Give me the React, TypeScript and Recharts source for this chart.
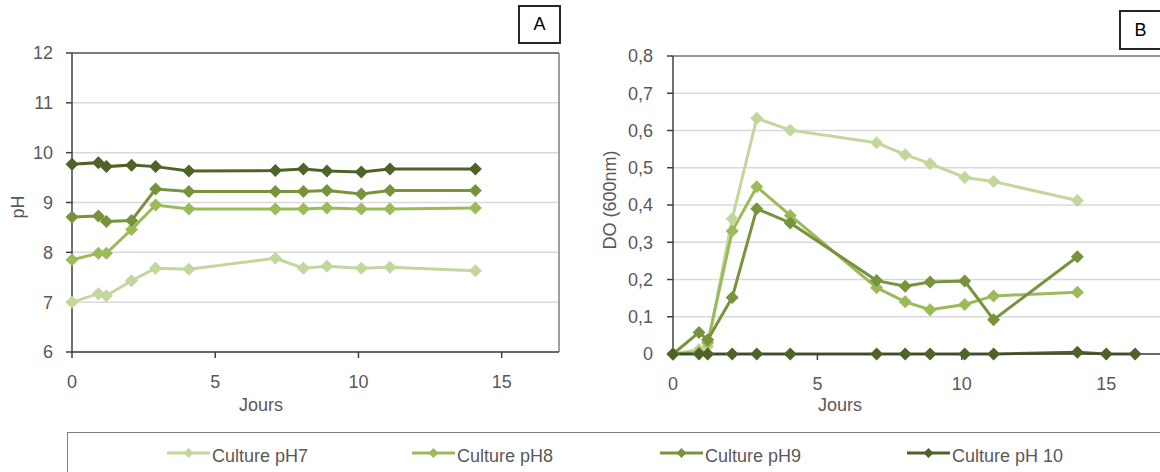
import React from "react";
import { CartesianGrid, Line, LineChart, ReferenceLine, XAxis, YAxis } from "recharts";

const FONT = '"Liberation Sans", Arial, sans-serif';
const TXT = "#595959";
const AX = "#404040";

const C7 = "#c3d69b";
const C8 = "#9bbb59";
const C9 = "#77933c";
const C10 = "#4f6228";

const SERIES = ["Culture pH7", "Culture pH8", "Culture pH9", "Culture pH 10"];
const COLORS = [C7, C8, C9, C10];

const X_TICKS = [0, 5, 10, 15];
const PH_TICKS = [6, 7, 8, 9, 10, 11, 12];
const DO_TICKS = [0, 0.1, 0.2, 0.3, 0.4, 0.5, 0.6, 0.7, 0.8];

// panel A : pH
const daysA = [0, 0.92, 1.2, 2.08, 2.92, 4.08, 7.1, 8.08, 8.9, 10.1, 11.1, 14.08];
const phA7 = [7.0, 7.17, 7.13, 7.43, 7.68, 7.66, 7.88, 7.68, 7.72, 7.68, 7.7, 7.63];
const phA8 = [7.85, 7.98, 7.98, 8.46, 8.95, 8.87, 8.87, 8.87, 8.89, 8.87, 8.87, 8.89];
const phA9 = [8.71, 8.73, 8.62, 8.64, 9.27, 9.22, 9.22, 9.22, 9.24, 9.17, 9.24, 9.24];
const phA10 = [9.77, 9.8, 9.72, 9.75, 9.72, 9.63, 9.64, 9.67, 9.63, 9.61, 9.67, 9.67];

// panel B : DO 600nm
const daysB = [0, 0.9, 1.2, 2.05, 2.9, 4.06, 7.05, 8.04, 8.9, 10.1, 11.1, 14.0, 15, 16];
const do7 = [0, 0.012, 0.02, 0.363, 0.633, 0.601, 0.567, 0.535, 0.511, 0.474, 0.463, 0.412];
const do8 = [0, 0.005, 0.03, 0.33, 0.449, 0.372, 0.178, 0.14, 0.119, 0.133, 0.156, 0.166];
const do9 = [0, 0.058, 0.038, 0.152, 0.39, 0.352, 0.197, 0.182, 0.193, 0.196, 0.092, 0.261];
const do10 = [0, 0, 0, 0, 0, 0, 0, 0, 0, 0, 0, 0.005, 0, 0];

const toRows = (days: number[], vals: number[]) =>
  vals.map((v, i) => ({ day: days[i], v }));

const diamond = (color: string) => (props: any) => {
  const { cx, cy, index } = props;
  if (cx == null || cy == null) return <g key={index} />;
  const r = 6.5;
  return (
    <path
      key={index}
      d={`M${cx},${cy - r}L${cx + r},${cy}L${cx},${cy + r}L${cx - r},${cy}Z`}
      fill={color}
    />
  );
};

const tickStyle = { fontSize: 18, fill: TXT, fontFamily: FONT };

const commaFmt = (v: number) => (v === 0 ? "0" : v.toFixed(1).replace(".", ","));

function PanelA() {
  const rows = [phA7, phA8, phA9, phA10].map((s) => toRows(daysA, s));
  return (
    <LineChart width={580} height={420} margin={{ top: 53, right: 21, bottom: 0, left: 0 }}>
      <CartesianGrid vertical={false} stroke="#d9d9d9" strokeWidth={1.5} />
      <XAxis
        type="number"
        dataKey="day"
        domain={[0, 17]}
        ticks={X_TICKS}
        height={68}
        tick={tickStyle}
        tickSize={6}
        tickMargin={17}
        stroke={AX}
        strokeWidth={1.5}
      />
      <YAxis
        type="number"
        domain={[6, 12]}
        ticks={PH_TICKS}
        width={72}
        tick={tickStyle}
        tickSize={6}
        tickMargin={13}
        stroke={AX}
        strokeWidth={1.5}
      />
      <ReferenceLine y={12} stroke="#595959" strokeWidth={1.5} />
      <ReferenceLine x={17} stroke="#7f7f7f" strokeWidth={1.5} />
      {rows.map((r, i) => (
        <Line
          key={SERIES[i]}
          data={r}
          dataKey="v"
          name={SERIES[i]}
          stroke={COLORS[i]}
          strokeWidth={3}
          dot={diamond(COLORS[i])}
          activeDot={false}
          isAnimationActive={false}
        />
      ))}
    </LineChart>
  );
}

function PanelB() {
  const rows = [do7, do8, do9, do10].map((s) => toRows(daysB, s));
  return (
    <LineChart width={600} height={420} margin={{ top: 56, right: 36, bottom: 0, left: 0 }}>
      <CartesianGrid vertical={false} stroke="#d9d9d9" strokeWidth={1.5} />
      <XAxis
        type="number"
        dataKey="day"
        domain={[0, 17]}
        ticks={X_TICKS}
        height={66}
        tick={tickStyle}
        tickSize={6}
        tickMargin={17}
        stroke={AX}
        strokeWidth={1.5}
      />
      <YAxis
        type="number"
        domain={[0, 0.8]}
        ticks={DO_TICKS}
        tickFormatter={commaFmt}
        width={73}
        tick={tickStyle}
        tickSize={6}
        tickMargin={14}
        stroke={AX}
        strokeWidth={1.5}
      />
      <ReferenceLine y={0.8} stroke="#7f7f7f" strokeWidth={1.5} />
      {rows.map((r, i) => (
        <Line
          key={SERIES[i]}
          data={r}
          dataKey="v"
          name={SERIES[i]}
          stroke={COLORS[i]}
          strokeWidth={3}
          dot={diamond(COLORS[i])}
          activeDot={false}
          isAnimationActive={false}
        />
      ))}
    </LineChart>
  );
}

const abs = (s: React.CSSProperties): React.CSSProperties => ({ position: "absolute", ...s });

const vTitle = (text: string, cx: number, cy: number) => (
  <div
    style={abs({
      left: cx - 100,
      top: cy - 12,
      width: 200,
      height: 24,
      lineHeight: "24px",
      textAlign: "center",
      transform: "rotate(-90deg)",
      fontSize: 18,
      color: TXT,
    })}
  >
    {text}
  </div>
);

const hTitle = (text: string, cx: number, cy: number) => (
  <div
    style={abs({
      left: cx - 60,
      top: cy - 12,
      width: 120,
      height: 24,
      lineHeight: "24px",
      textAlign: "center",
      fontSize: 18,
      color: TXT,
    })}
  >
    {text}
  </div>
);

const panelTag = (tag: string, left: number, top: number, w: number, h: number) => (
  <div
    style={abs({
      left,
      top,
      width: w,
      height: h,
      boxSizing: "border-box",
      border: "2px solid #262626",
      background: "#fff",
      textAlign: "center",
      lineHeight: `${h - 4}px`,
      fontSize: 18,
      color: "#000",
    })}
  >
    {tag}
  </div>
);

const LEGEND_X = [166, 411, 659, 906];

function LegendBox() {
  return (
    <div
      style={abs({
        left: 67,
        top: 432,
        width: 1200,
        height: 100,
        border: "1.5px solid #7f7f7f",
        boxSizing: "border-box",
      })}
    >
      {SERIES.map((s, i) => (
        <div key={s} style={abs({ left: LEGEND_X[i] - 67, top: 9, height: 28, display: "flex", alignItems: "center" })}>
          <svg width={43} height={14} style={{ marginTop: -6 }}>
            <line x1={0} y1={7} x2={43} y2={7} stroke={COLORS[i]} strokeWidth={3} />
            <path d="M21.5,2L26.5,7L21.5,12L16.5,7Z" fill={COLORS[i]} />
          </svg>
          <span style={{ marginLeft: 2, fontSize: 18, color: TXT, whiteSpace: "nowrap" }}>{s}</span>
        </div>
      ))}
    </div>
  );
}

export default function App() {
  return (
    <div
      style={{
        position: "fixed",
        left: 0,
        top: 0,
        width: 1160,
        height: 472,
        overflow: "hidden",
        background: "#fff",
        fontFamily: FONT,
      }}
    >
      <div style={abs({ left: 0, top: 0 })}>
        <PanelA />
      </div>
      <div style={abs({ left: 600, top: 0 })}>
        <PanelB />
      </div>
      {vTitle("pH", 18, 207)}
      {vTitle("DO (600nm)", 610, 200)}
      {hTitle("Jours", 261, 405)}
      {hTitle("Jours", 840, 405)}
      {panelTag("A", 518, 5, 43, 39)}
      {panelTag("B", 1119, 10, 43, 40)}
      <LegendBox />
    </div>
  );
}
